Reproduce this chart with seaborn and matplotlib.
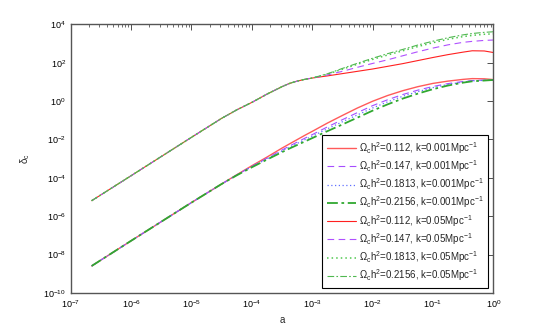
import numpy as np
import pandas as pd
import seaborn as sb
import matplotlib
matplotlib.use('Agg')
import matplotlib.pyplot as plt
from matplotlib.ticker import LogLocator, NullFormatter, NullLocator


# log10(a) где снимаются точки
log_a = [-6.652, -6.0, -5.0, -4.5, -4.25, -4.0, -3.75, -3.5, -3.375, -3.25, -3.125, -3.0, -2.75,
         -2.5, -2.25, -2.0, -1.75, -1.5, -1.25, -1.0, -0.75, -0.5, -0.35, -0.15, 0.0]

# k = 0.05 Mpc^-1 (верхняя группа), log10(delta_c)
up_common = [-5.19, -3.89, -1.89, -0.90, -0.46, -0.07, 0.36, 0.75, 0.92, 1.04, 1.13, 1.20]
up_0112 = up_common + [1.31, 1.43, 1.55, 1.67, 1.81, 1.95, 2.11, 2.27, 2.42, 2.55, 2.62, 2.61, 2.53]
up_0147 = up_common + [1.36, 1.55, 1.76, 1.96, 2.15, 2.36, 2.57, 2.76, 2.93, 3.06, 3.11, 3.16, 3.18]
up_01813 = up_common + [1.40, 1.66, 1.92, 2.17, 2.40, 2.62, 2.84, 3.04, 3.22, 3.36, 3.42, 3.48, 3.50]
up_02156 = up_common + [1.42, 1.70, 1.97, 2.23, 2.47, 2.69, 2.92, 3.12, 3.30, 3.45, 3.52, 3.58, 3.61]

# k = 0.001 Mpc^-1 (нижняя группа)
lo_0112 = [-8.59, -7.28, -5.29, -4.32, -3.84, -3.37, -2.92, -2.45, -2.23, -2.01, -1.79, -1.58, -1.15,
           -0.75, -0.36, -0.01, 0.29, 0.54, 0.75, 0.92, 1.04, 1.13, 1.17, 1.16, 1.12]
lo_0147 = [-8.59, -7.28, -5.29, -4.32, -3.85, -3.40, -2.98, -2.55, -2.34, -2.14, -1.94, -1.75, -1.35,
           -0.97, -0.60, -0.24, 0.07, 0.34, 0.57, 0.76, 0.91, 1.02, 1.07, 1.09, 1.10]
lo_01813 = [-8.59, -7.28, -5.29, -4.32, -3.86, -3.42, -3.01, -2.60, -2.40, -2.21, -2.02, -1.83, -1.45,
            -1.08, -0.72, -0.36, -0.04, 0.25, 0.49, 0.70, 0.87, 0.99, 1.05, 1.08, 1.10]
lo_02156 = [-8.59, -7.28, -5.29, -4.32, -3.87, -3.45, -3.05, -2.66, -2.47, -2.29, -2.11, -1.93, -1.57,
            -1.22, -0.86, -0.50, -0.17, 0.13, 0.39, 0.62, 0.81, 0.96, 1.03, 1.07, 1.10]

labels = [r'$\Omega_c$h$^2$=0.112, k=0.001Mpc$^{-1}$',
          r'$\Omega_c$h$^2$=0.147, k=0.001Mpc$^{-1}$',
          r'$\Omega_c$h$^2$=0.1813, k=0.001Mpc$^{-1}$',
          r'$\Omega_c$h$^2$=0.2156, k=0.001Mpc$^{-1}$',
          r'$\Omega_c$h$^2$=0.112, k=0.05Mpc$^{-1}$',
          r'$\Omega_c$h$^2$=0.147, k=0.05Mpc$^{-1}$',
          r'$\Omega_c$h$^2$=0.1813, k=0.05Mpc$^{-1}$',
          r'$\Omega_c$h$^2$=0.2156, k=0.05Mpc$^{-1}$']

curves = [lo_0112, lo_0147, lo_01813, lo_02156, up_0112, up_0147, up_01813, up_02156]
styles = [('#ff5a5a', '-', 1.0), ('#a64dff', (0, (6, 4)), 0.8), ('#6070ff', (0, (1, 2)), 0.9),
          ('#30a830', (0, (6, 2, 1.5, 2)), 1.3), ('#ff2020', '-', 0.8), ('#b050ff', (0, (6, 4)), 0.8),
          ('#50c850', (0, (1, 2)), 1.1), ('#50b850', (0, (6, 2, 1.5, 2)), 0.8)]

sb.set_style('white')
plt.rcParams['font.family'] = ['Liberation Sans', 'DejaVu Sans']
plt.rcParams['mathtext.default'] = 'regular'
plt.rcParams['xtick.direction'] = 'in'
plt.rcParams['ytick.direction'] = 'in'

fig = plt.figure(figsize=(5.45, 3.3), dpi=100)
ax = fig.add_axes([0.1297, 0.1121, 0.7755, 0.8143])
ax.set_xscale('log')
ax.set_yscale('log')

x = 10 ** np.array(log_a)
for y, lab, (col, ls, lw) in zip(curves, labels, styles):
	df = pd.DataFrame({'a': x, 'delta': 10 ** np.array(y)})
	sb.lineplot(data=df, x='a', y='delta', ax=ax, color=col, linestyle=ls, linewidth=lw, label=lab)

ax.set_xlim(1e-7, 1)
ax.set_ylim(1e-10, 1e4)
ax.xaxis.set_major_locator(LogLocator(base=10, numticks=20))
ax.xaxis.set_minor_locator(LogLocator(base=10, subs=np.arange(2, 10), numticks=100))
ax.xaxis.set_minor_formatter(NullFormatter())
ax.set_yticks([10.0 ** p for p in range(-10, 5, 2)])
ax.yaxis.set_minor_locator(NullLocator())
ax.tick_params(which='both', top=True, right=True, labelsize=6.5, colors='#333333', labelcolor='black')
ax.tick_params(which='major', length=4, width=0.6)
ax.tick_params(which='minor', length=2, width=0.5)
for s in ax.spines.values():
	s.set_color('#555555')
	s.set_linewidth(1.0)

ax.set_xlabel('a', fontsize=7)
ax.set_ylabel(r'$\delta_c$', fontsize=7, labelpad=8)

leg = ax.legend(loc='lower right', fontsize=7, handlelength=3.0, labelspacing=0.25,
                fancybox=False, framealpha=1, edgecolor='black', borderaxespad=0.5,
                borderpad=0.5, handletextpad=0.3)
leg.get_frame().set_linewidth(0.8)

fig.savefig('out.png', dpi=100)
